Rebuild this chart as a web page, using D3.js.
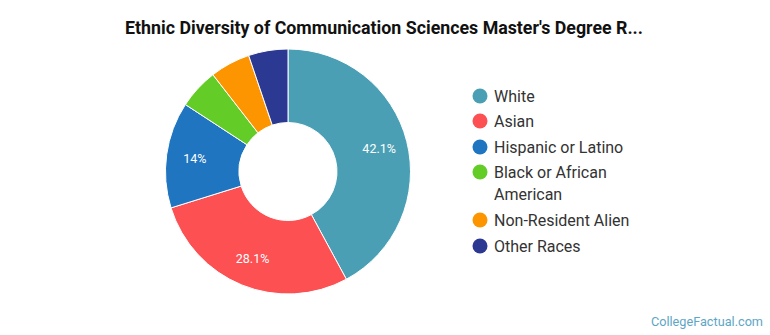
<!DOCTYPE html>
<html>
<head>
<meta charset="utf-8">
<script src="https://cdn.jsdelivr.net/npm/d3@7"></script>
<style>
  body { margin: 0; background: #fff; }
  text { font-family: Roboto, "Noto Sans", sans-serif; }
</style>
</head>
<body>
<div id="chart"></div>
<script>
const categories = ["White", "Asian", "Hispanic or Latino", "Black or African American", "Non-Resident Alien", "Other Races"];
const values = [42.1, 28.1, 14.0, 5.3, 5.3, 5.2];
const colors = ["#4a9fb5", "#fc5053", "#1f75c0", "#63cc26", "#fd9500", "#2b3993"];
const legendLines = [["White"], ["Asian"], ["Hispanic or Latino"], ["Black or African", "American"], ["Non-Resident Alien"], ["Other Races"]];

const width = 770, height = 335;
const cx = 288, cy = 171.5, outerR = 122.5, innerR = 49;

const svg = d3.select("#chart").append("svg")
  .attr("width", width).attr("height", height);

svg.append("text")
  .attr("x", 384).attr("y", 34)
  .attr("text-anchor", "middle")
  .attr("font-size", 17.8).attr("font-weight", "bold").attr("fill", "#111")
  .text("Ethnic Diversity of Communication Sciences Master's Degree R...");

const data = categories.map((c, i) => ({ name: c, value: values[i], color: colors[i] }));
const pie = d3.pie().sort(null).value(d => d.value);
const arc = d3.arc().innerRadius(innerR).outerRadius(outerR);
const labelArc = d3.arc().innerRadius(94).outerRadius(94);

const g = svg.append("g").attr("transform", `translate(${cx}, ${cy})`);
const arcs = pie(data);

g.selectAll("path")
  .data(arcs)
  .join("path")
  .attr("d", arc)
  .attr("fill", d => d.data.color)
  .attr("stroke", "#fff")
  .attr("stroke-width", 1);

// percentages only on the bigger slices
g.selectAll("text")
  .data(arcs.filter(d => d.data.value >= 10))
  .join("text")
  .attr("transform", d => `translate(${labelArc.centroid(d)})`)
  .attr("text-anchor", "middle")
  .attr("dy", "0.35em")
  .attr("font-size", 12.5)
  .attr("fill", "#fff")
  .text(d => d3.format("~")(d.data.value) + "%");

// legend
const rowY = [96, 121, 147, 172, 220, 246];
const legend = svg.append("g");
legendLines.forEach((lines, i) => {
  legend.append("circle")
    .attr("cx", 480).attr("cy", rowY[i])
    .attr("r", 7.5)
    .attr("fill", colors[i]);
  lines.forEach((line, j) => {
    legend.append("text")
      .attr("x", 494).attr("y", rowY[i] + j * 22.5)
      .attr("dy", "0.35em")
      .attr("font-size", 16).attr("fill", "#333")
      .text(line);
  });
});

svg.append("text")
  .attr("x", 763).attr("y", 326)
  .attr("text-anchor", "end")
  .attr("font-size", 12.7).attr("fill", "#5ea6c6")
  .text("CollegeFactual.com");
</script>
</body>
</html>
